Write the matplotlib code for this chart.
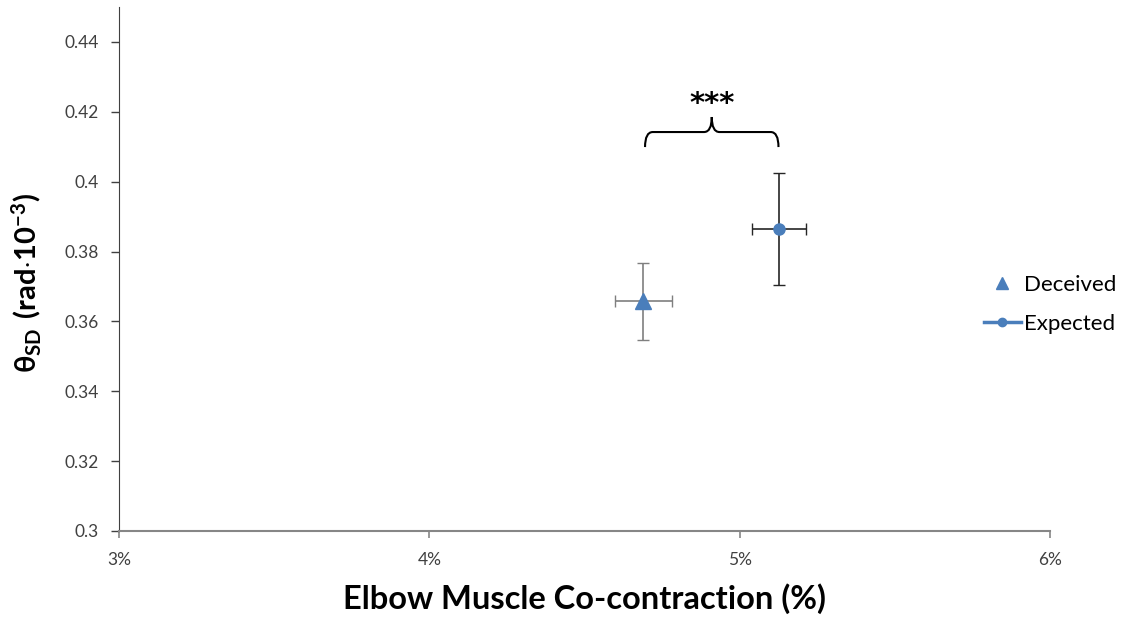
import numpy as np
import matplotlib.pyplot as plt
from matplotlib.path import Path
from matplotlib.patches import PathPatch
from matplotlib.lines import Line2D

plt.rcParams['font.family'] = ['Lato', 'DejaVu Sans']
plt.rcParams['mathtext.fontset'] = 'custom'
plt.rcParams['mathtext.rm'] = 'Lato'
plt.rcParams['mathtext.bf'] = 'Lato:bold'

# data
groups = ['Deceived', 'Expected']
cocontraction = [4.69, 5.127]      # %
cocontraction_err = [0.093, 0.087]
theta_sd = [0.3657, 0.3864]
theta_sd_err = [0.0111, 0.0161]

x_ticks = [3, 4, 5, 6]
y_ticks = [0.3, 0.32, 0.34, 0.36, 0.38, 0.4, 0.42, 0.44]
y_tick_labels = ['0.3', '0.32', '0.34', '0.36', '0.38', '0.4', '0.42', '0.44']

blue = '#4a7ebb'

fig = plt.figure(figsize=(11.27, 6.17), dpi=100)
ax = fig.add_axes([0.1056, 0.1394, 0.8261, 0.8493])

ax.errorbar(cocontraction[0], theta_sd[0], xerr=cocontraction_err[0], yerr=theta_sd_err[0],
            fmt='^', color=blue, ms=11, ecolor='#7f7f7f', elinewidth=1.2, capsize=4,
            zorder=3)
ax.errorbar(cocontraction[1], theta_sd[1], xerr=cocontraction_err[1], yerr=theta_sd_err[1],
            fmt='o', color=blue, ms=8, ecolor='#262626', elinewidth=1.2, capsize=4,
            zorder=3)

# significance brace
x0, x1 = 4.695, 5.125
xm = (x0 + x1) / 2
yb, yh, yt = 0.4099, 0.4142, 0.4185
d = 0.025
verts = [(x0, yb), (x0, yh), (x0 + d, yh),
         (xm - d, yh),
         (xm, yh), (xm, yt),
         (xm, yh), (xm + d, yh),
         (x1 - d, yh),
         (x1, yh), (x1, yb)]
codes = [Path.MOVETO, Path.CURVE3, Path.CURVE3,
         Path.LINETO,
         Path.CURVE3, Path.CURVE3,
         Path.CURVE3, Path.CURVE3,
         Path.LINETO,
         Path.CURVE3, Path.CURVE3]
ax.add_patch(PathPatch(Path(verts, codes), fill=False, lw=1.5, color='black'))
ax.text(xm, 0.4222, '***', ha='center', va='center', fontsize=21,
        family='DejaVu Sans', fontweight='bold')

ax.set_xlim(3, 6)
ax.set_ylim(0.3, 0.45)
ax.set_xticks(x_ticks)
ax.set_xticklabels([f'{v}%' for v in x_ticks])
ax.set_yticks(y_ticks)
ax.set_yticklabels(y_tick_labels)
ax.tick_params(axis='x', labelsize=12.5, colors='#868686', length=5, width=1.2, pad=10)
ax.tick_params(axis='y', labelsize=12.5, colors='#404040', length=5.5, width=1, pad=9)
ax.tick_params(labelcolor='#404040')
for s in ['top', 'right']:
    ax.spines[s].set_visible(False)
ax.spines['left'].set_color('#404040')
ax.spines['bottom'].set_color('#868686')
ax.spines['bottom'].set_linewidth(1.5)

ax.set_xlabel('Elbow Muscle Co-contraction (%)', fontsize=23.5, fontweight='bold')
ax.xaxis.set_label_coords(0.5, -0.0995)
ax.set_ylabel(r'$\mathbf{\theta_{SD}\ (rad{\cdot}10^{-3})}$', fontsize=21)
ax.yaxis.set_label_coords(-0.082, 0.473)

handles = [Line2D([], [], ls='none', marker='^', color=blue, ms=9),
           Line2D([], [], ls='-', marker='o', color=blue, ms=6, lw=2.5)]
fig.legend(handles, groups, loc='center left', bbox_to_anchor=(0.855, 0.507),
           frameon=False, fontsize=16, handlelength=1.7, labelspacing=0.85,
           handletextpad=0.1)

plt.savefig('out.png', dpi=100)
